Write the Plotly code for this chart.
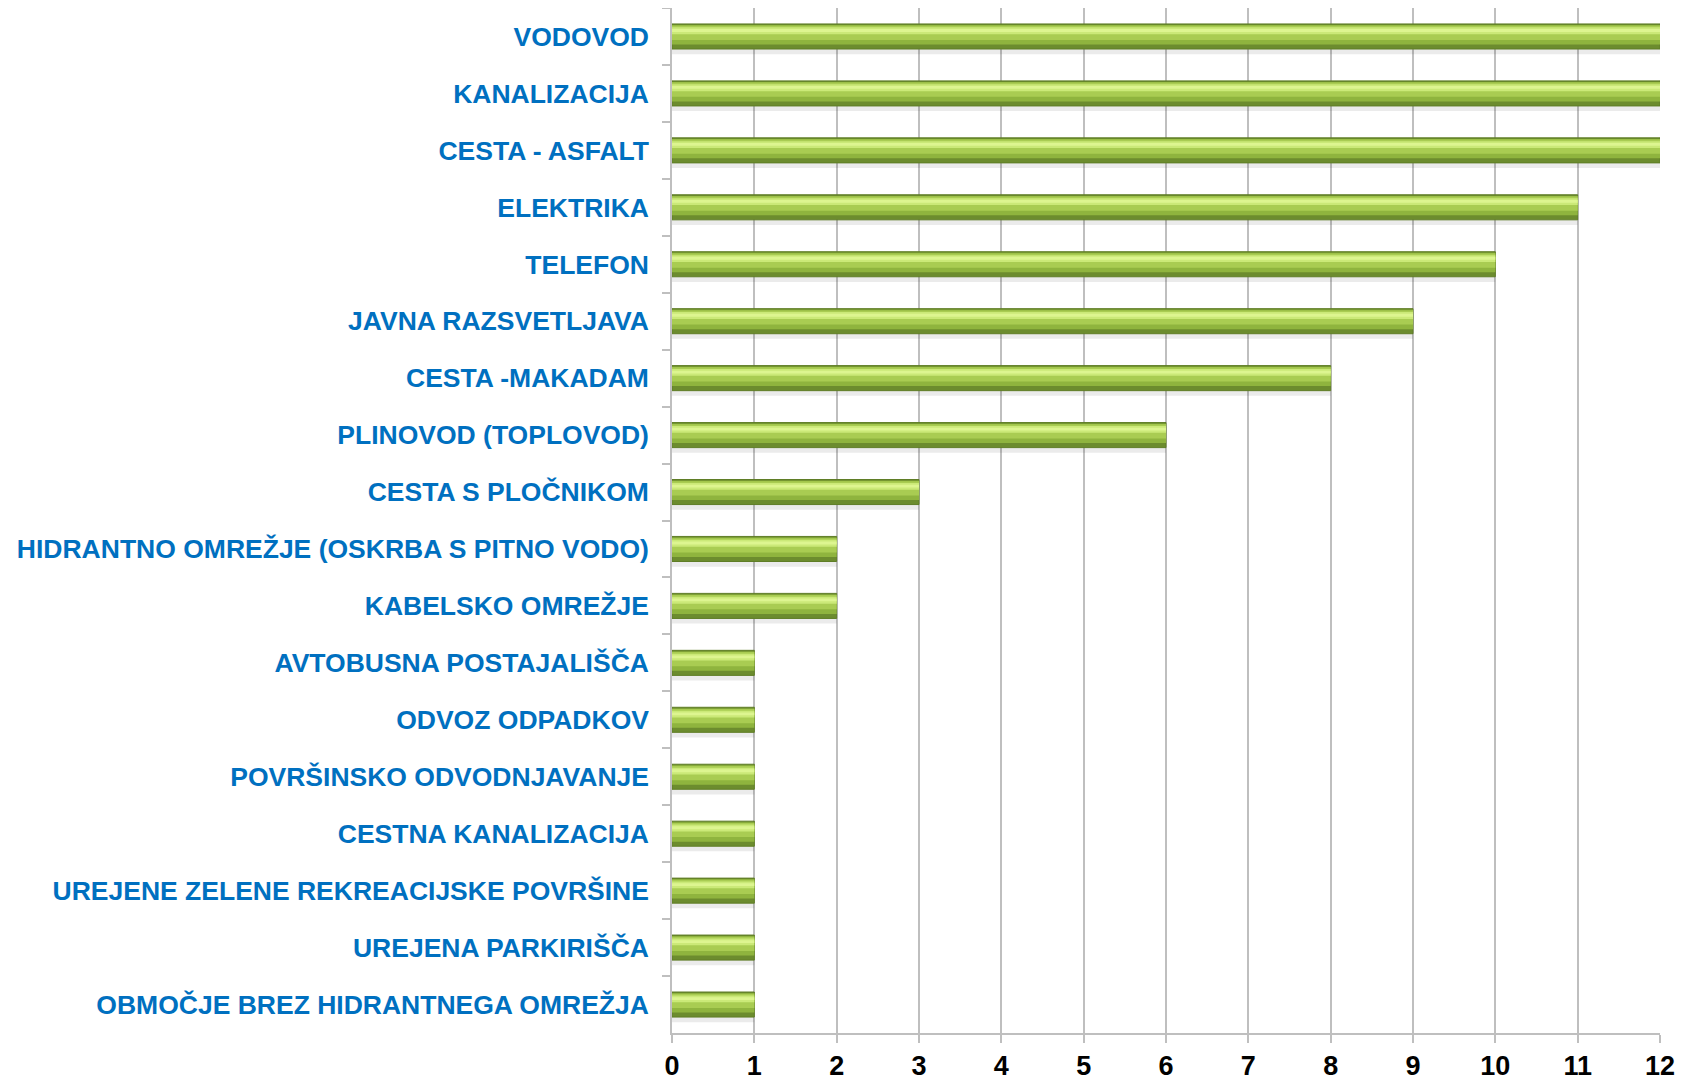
import plotly.graph_objects as go

categories = [
    "VODOVOD", "KANALIZACIJA", "CESTA - ASFALT", "ELEKTRIKA", "TELEFON",
    "JAVNA RAZSVETLJAVA", "CESTA -MAKADAM", "PLINOVOD (TOPLOVOD)",
    "CESTA S PLOČNIKOM", "HIDRANTNO OMREŽJE (OSKRBA S PITNO VODO)",
    "KABELSKO OMREŽJE", "AVTOBUSNA POSTAJALIŠČA", "ODVOZ ODPADKOV",
    "POVRŠINSKO ODVODNJAVANJE", "CESTNA KANALIZACIJA",
    "UREJENE ZELENE REKREACIJSKE POVRŠINE", "UREJENA PARKIRIŠČA",
    "OBMOČJE BREZ HIDRANTNEGA OMREŽJA",
]
values = [12, 12, 12, 11, 10, 9, 8, 6, 3, 2, 2, 1, 1, 1, 1, 1, 1, 1]
x_ticks = list(range(0, 13))

fig = go.Figure()

# layered bars to imitate the bevelled gradient look
layers = [
    # (offset, width, color, line)
    (0.22, 0.09, "rgba(0,0,0,0.08)", None),            # soft shadow
    (-0.22, 0.44, "#6C8C2E", "#5F7D26"),              # dark base
    (-0.20, 0.34, "#8FB43E", None),                   # lower body
    (-0.19, 0.25, "#A9CC52", None),                   # body
    (-0.16, 0.12, "#CBE978", None),                   # highlight
    (-0.13, 0.05, "#DDF590", None),                   # brightest
]
for off, w, col, line in layers:
    fig.add_trace(go.Bar(
        y=categories, x=values, orientation="h",
        offset=off, width=w,
        marker=dict(color=col,
                    line=dict(width=1 if line else 0, color=line or col)),
        hoverinfo="skip", showlegend=False,
    ))

FONT = "Liberation Sans, Arial, sans-serif"
fig.update_layout(
    width=1694, height=1078,
    margin=dict(l=664, r=42, t=0, b=53, autoexpand=False),
    paper_bgcolor="white", plot_bgcolor="white",
    barmode="overlay",
    font=dict(family=FONT),
)
fig.update_xaxes(
    range=[0, 12], tickvals=x_ticks, ticktext=[str(v) for v in x_ticks],
    showgrid=True, gridcolor="#BFBFBF", gridwidth=1.5,
    showline=True, linecolor="#BFBFBF", linewidth=1.5,
    ticks="outside", ticklen=8, tickcolor="#BFBFBF", tickwidth=1.5,
    tickfont=dict(size=27, color="black", family=FONT, weight="bold"),
    zeroline=False, automargin=False,
)
fig.update_yaxes(
    type="category", autorange="reversed",
    tickson="boundaries", ticks="outside", ticklen=8,
    tickcolor="#BFBFBF", tickwidth=1.5,
    showline=True, linecolor="#BFBFBF", linewidth=1.5,
    showgrid=False, automargin=False,
    tickfont=dict(size=26.5, color="#0070C0", family=FONT, weight="bold"),
    ticklabelstandoff=16,
)

fig.write_html("out.html")
